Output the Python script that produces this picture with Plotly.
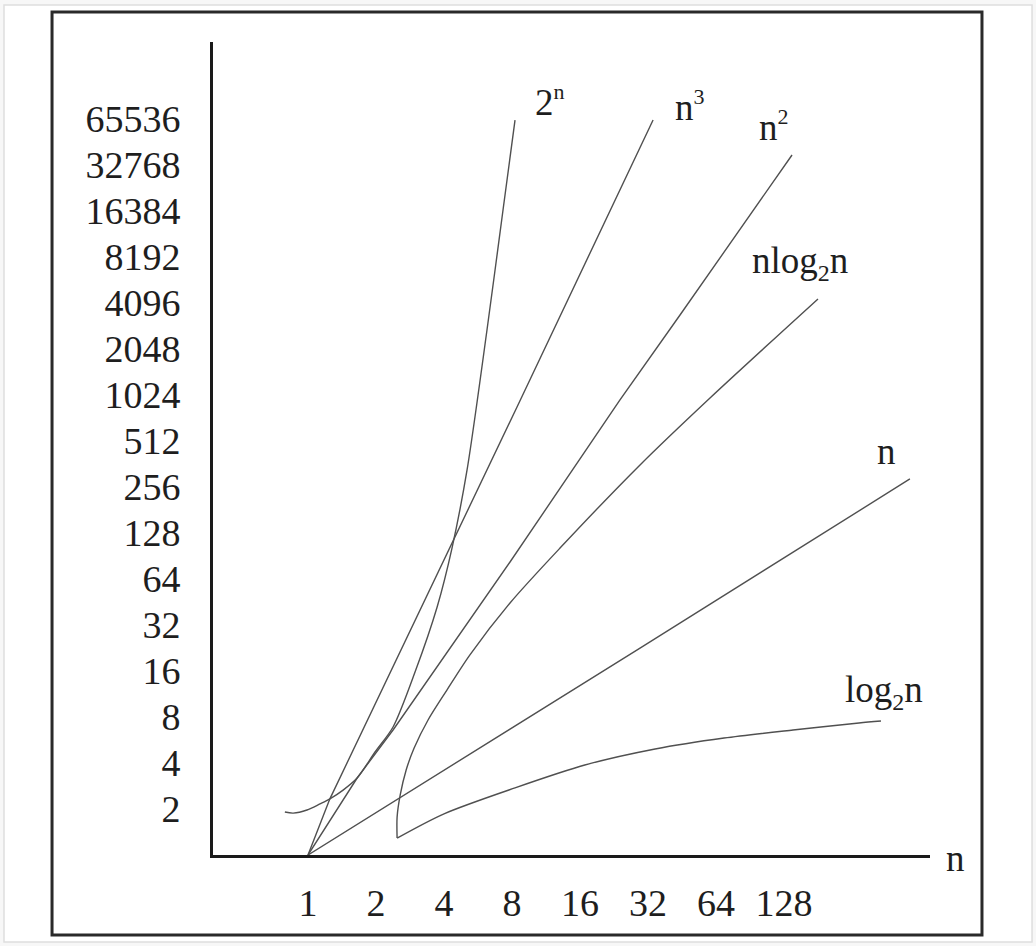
import math
import plotly.graph_objects as go

# ---- tick labels ----
x_tick_vals = [1, 2, 4, 8, 16, 32, 64, 128]
y_tick_vals = [2, 4, 8, 16, 32, 64, 128, 256, 512, 1024, 2048, 4096,
               8192, 16384, 32768, 65536]

# ---- curves ----
exp_n = [0.79, 0.86, 0.99, 1.13, 1.25, 1.43, 1.65, 1.98, 2.38, 2.98, 3.73, 4.34, 5.06, 6.2, 7.3, 8.25]
exp_v = [1.91, 1.88, 1.97, 2.16, 2.33, 2.66, 3.19, 4.72, 6.88, 15.8, 42.0, 102, 331, 2727, 16640, 64500]

cube_n = [1, 1.25, 8.42, 33.7]
cube_v = [1, 2.33, 855, 64500]

sq_n = [1, 1.65, 2.38, 7.84, 24.05, 44.35, 138.9]
sq_v = [1, 3.19, 6.58, 82.7, 950, 3418, 38090]

nlog_n = [2.48, 2.48, 2.56, 2.72, 2.95, 3.40, 4.12, 5.21, 7.84, 13.05, 29.5, 60.2, 181.0]
nlog_v = [1.29, 1.77, 2.47, 3.60, 5.01, 7.65, 12.0, 20.4, 44.6, 102, 357, 979, 4351]

lin_n = [1, 29.5, 462]
lin_v = [1, 22.6, 289]

log_n = [2.48, 4.0, 8.25, 16.8, 34.4, 69.5, 140.3, 274.9, 343.9]
log_v = [1.29, 1.86, 2.75, 3.88, 4.94, 5.83, 6.58, 7.31, 7.53]

# axis extents, in powers of two
x_log2_range = (-1.397, 9.147)
y_log2_range = (0.0, 17.674)

FONT = "Liberation Serif"
LINE_COL = "#505050"
TEXT_COL = "#1e1e1e"
TICK_SIZE = 38
LABEL_SIZE = 37

fig = go.Figure()

curves = [
    ("2^n", exp_n, exp_v, "spline"),
    ("n^3", cube_n, cube_v, "linear"),
    ("n^2", sq_n, sq_v, "linear"),
    ("nlog2n", nlog_n, nlog_v, "spline"),
    ("n", lin_n, lin_v, "linear"),
    ("log2n", log_n, log_v, "spline"),
]
for name, xs, ys, shp in curves:
    line = dict(color=LINE_COL, width=1.4, shape=shp)
    if shp == "spline":
        line["smoothing"] = 0.8
    fig.add_trace(go.Scatter(x=xs, y=ys, mode="lines", name=name,
                             line=line, hoverinfo="skip", showlegend=False))

SUP = "<sup><span style='font-size:22px'>{}</span></sup>"
SUB = "<sub><span style='font-size:24px'>{}</span></sub>"

# curve labels attached to the curve ends
labels = [
    ("2" + SUP.format("n"), exp_n, exp_v, 18, 19),
    ("n" + SUP.format("3"), cube_n, cube_v, 20, 14),
    ("n" + SUP.format("2"), sq_n, sq_v, -35, 29),
    ("nlog" + SUB.format("2") + "n", nlog_n, nlog_v, -68, 36),
    ("n", lin_n, lin_v, -35, 27),
    ("log" + SUB.format("2") + "n", log_n, log_v, -38, 29),
]
l2 = math.log10(2)
for txt, xs, ys, dx, dy in labels:
    fig.add_annotation(x=math.log10(xs[-1]), y=math.log10(ys[-1]), text=txt,
                       showarrow=False, xanchor="left", yanchor="middle",
                       xshift=dx, yshift=dy,
                       font=dict(family=FONT, size=LABEL_SIZE, color=TEXT_COL))

# axis name "n" at right end of x axis
fig.add_annotation(xref="paper", yref="paper", x=1, y=0, text="n",
                   showarrow=False, xanchor="left", yanchor="middle",
                   xshift=14, yshift=-3,
                   font=dict(family=FONT, size=LABEL_SIZE, color=TEXT_COL))

# outer light border and black frame
fig.add_shape(type="rect", xref="paper", yref="paper",
              x0=-0.2915, x1=1.1423, y0=-0.107, y1=1.0455,
              line=dict(color="#dedede", width=1.5), fillcolor="white",
              layer="below")
fig.add_shape(type="rect", xref="paper", yref="paper",
              x0=-0.2245, x1=1.0725, y0=-0.0984, y1=1.0369,
              line=dict(color="#2a2a2a", width=3), layer="above")

fig.update_xaxes(type="log",
                 range=[x_log2_range[0] * l2, x_log2_range[1] * l2],
                 tickvals=x_tick_vals, ticktext=[str(v) for v in x_tick_vals],
                 showline=True, linewidth=3, linecolor="#1a1a1a",
                 showgrid=False, zeroline=False, ticks="",
                 ticklabelstandoff=12,
                 tickfont=dict(family=FONT, size=TICK_SIZE, color=TEXT_COL))
fig.update_yaxes(type="log",
                 range=[y_log2_range[0] * l2, y_log2_range[1] * l2],
                 tickvals=y_tick_vals, ticktext=[str(v) for v in y_tick_vals],
                 showline=True, linewidth=3, linecolor="#1a1a1a",
                 showgrid=False, zeroline=False, ticks="",
                 ticklabelstandoff=22,
                 tickfont=dict(family=FONT, size=TICK_SIZE, color=TEXT_COL))

fig.update_layout(width=1036, height=946,
                  margin=dict(l=213, r=106, t=42, b=91),
                  paper_bgcolor="#f7f7f7", plot_bgcolor="rgba(0,0,0,0)",
                  showlegend=False)

fig.write_html("out.html", config={"displayModeBar": False},
               post_script="document.body.style.margin='0';document.body.style.overflow='hidden';")
